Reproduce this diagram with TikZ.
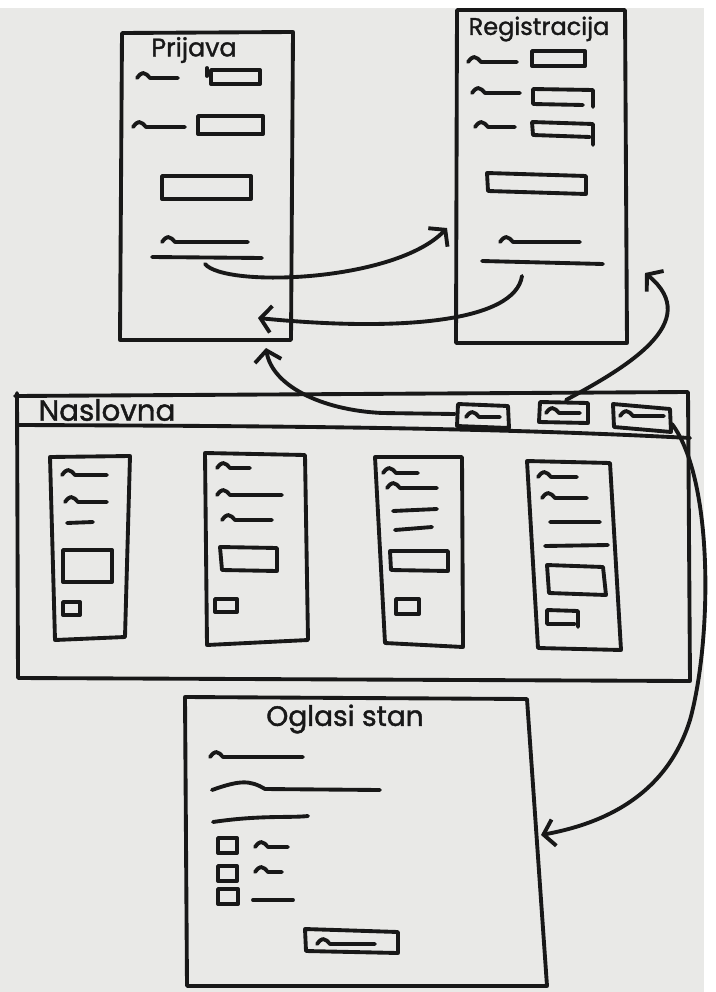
\documentclass[tikz,border=0pt]{standalone}
\usepackage{fontspec}
\newfontfamily\hand{Poppins}[FakeBold=1.4]
\usetikzlibrary{arrows.meta}
\definecolor{paper}{RGB}{233,233,231}
\definecolor{ink}{RGB}{24,24,24}
\newcommand\wavy[3]{\draw[pen] (#1,#3) sin ++(6,-5) cos ++(7,5) -- (#2,#3);}
\begin{document}
\begin{tikzpicture}[x=0.75pt,y=-0.75pt,
  pen/.style={line width=2.9pt,line cap=round,line join=round,draw=ink},
  arrowpen/.style={pen,-{Straight Barb[length=8pt,width=20pt]}},
  title/.style={inner sep=0pt,text=ink}]
\useasboundingbox (0,0) rectangle (715,992);
\fill[paper] (0,0) rectangle (715,992);
\fill[white] (0,0) rectangle (715,8);
\fill[white] (704,0) rectangle (715,992);

% ---------- Prijava ----------
\draw[pen] (122,33) -- (293,32) -- (291,340) -- (120,340) -- cycle;
\node[title,font=\hand\fontsize{19}{21}\selectfont] (prijavaT) at (194,50) {Prijava};
\wavy{137}{178}{78}
\draw[pen] (207,68) -- (207,76) (211,70) rectangle (260,84);
\wavy{133}{185}{127}
\draw[pen] (198,116) rectangle (263,134);
\draw[pen] (162,176) rectangle (251,199);
\wavy{162}{248}{242}
\draw[pen] (152,257) -- (262,258);

% ---------- Registracija ----------
\draw[pen] (457,10) -- (625,10) -- (627,343) -- (456,343) -- cycle;
\node[title,font=\hand\fontsize{18}{20}\selectfont] (regT) at (539,29) {Registracija};
\wavy{468}{517}{62}
\draw[pen] (532,51) rectangle (585,66);
\wavy{472}{520}{93}
\draw[pen] (533,89) -- (593,90) -- (593,107) (533,89) -- (533,104) -- (583,105);
\wavy{475}{515}{127}
\draw[pen] (532,122) -- (593,124) -- (593,145) (532,122) -- (533,135) -- (590,137);
\draw[pen] (487,173) -- (586,176) -- (586,194) -- (488,191) -- cycle;
\wavy{500}{580}{242}
\draw[pen] (482,261) -- (603,264);

% ---------- Naslovna ----------
\draw[pen] (15,396) -- (688,392) -- (690,681) -- (18,678) -- (17,393);
\draw[pen] (18,425) .. controls (300,426) and (500,428) .. (690,438);
\node[title,font=\hand\fontsize{22}{24}\selectfont] (naslovnaT) at (107,410) {Naslovna};
\draw[pen] (458,404) -- (508,406) -- (509,428) -- (457,426) -- cycle;
\wavy{466}{500}{417}
\draw[pen] (540,402) -- (588,403) -- (588,423) -- (539,422) -- cycle;
\wavy{546}{580}{413}
\draw[pen] (613,404) -- (670,409) -- (671,432) -- (614,427) -- cycle;
\wavy{620}{664}{416}

% cards
\draw[pen] (50,457) -- (130,456) -- (125,637) -- (55,640) -- cycle;
\wavy{62}{107}{475} \wavy{65}{107}{502}
\draw[pen] (67,523) -- (93,522);
\draw[pen] (63,550) rectangle (112,582);
\draw[pen] (63,602) rectangle (80,615);

\draw[pen] (205,453) -- (305,455) -- (308,640) -- (207,645) -- cycle;
\wavy{217}{250}{468} \wavy{217}{282}{495} \wavy{222}{272}{520}
\draw[pen] (220,547) -- (277,548) -- (277,571) -- (222,570) -- cycle;
\draw[pen] (215,599) rectangle (237,612);

\draw[pen] (375,457) -- (462,457) -- (463,647) -- (385,643) -- cycle;
\wavy{383}{418}{473} \wavy{387}{437}{488}
\draw[pen] (393,511) -- (437,509) (395,530) -- (432,527);
\draw[pen] (390,551) -- (448,551) -- (448,571) -- (391,570) -- cycle;
\draw[pen] (396,599) rectangle (419,614);

\draw[pen] (527,461) -- (610,463) -- (621,650) -- (538,648) -- cycle;
\wavy{538}{577}{477} \wavy{542}{587}{498}
\draw[pen] (550,522) -- (600,522) (545,546) -- (608,545);
\draw[pen] (547,565) -- (603,567) -- (606,595) -- (549,593) -- cycle;
\draw[pen] (547,610) -- (578,611) -- (578,627) (547,610) -- (547,624) -- (575,624);

% ---------- Oglasi stan ----------
\draw[pen] (185,697) -- (527,699) -- (547,986) -- (187,986) -- cycle;
\node[title,font=\hand\fontsize{21}{23}\selectfont] (oglasiT) at (345,719) {Oglasi stan};
\wavy{210}{303}{757}
\draw[pen] (212,790) .. controls (240,780) and (250,780) .. (265,789) -- (380,790);
\draw[pen] (213,822) .. controls (260,815) and (290,818) .. (308,816);
\draw[pen] (218,838) rectangle (237,853);
\wavy{255}{288}{847}
\draw[pen] (218,866) rectangle (237,881);
\wavy{255}{282}{872}
\draw[pen] (218,889) rectangle (238,904);
\draw[pen] (253,900) -- (293,900);
\draw[pen] (305,929) -- (398,932) -- (398,953) -- (306,951) -- cycle;
\wavy{317}{375}{944}

% ---------- connectors ----------
\coordinate (pOut) at (205,264);
\coordinate (rIn) at (447,228);
\coordinate (rOut) at (522,276);
\coordinate (pIn) at (258,318);
\coordinate (b1) at (455,414);
\coordinate (pBot) at (266,348);
\coordinate (b2) at (566,400);
\coordinate (rBot) at (645,273);
\coordinate (b3) at (672,424);
\coordinate (oIn) at (541,835);

\draw[arrowpen] (pOut) .. controls (225,288) and (395,282) .. (rIn);
\draw[arrowpen] (rOut) .. controls (515,322) and (400,332) .. (pIn);
\draw[arrowpen] (b1) -- (382,413) .. controls (320,410) and (272,385) .. (pBot);
\draw[arrowpen] (b2) .. controls (625,368) and (705,322) .. (rBot);
\draw[arrowpen] (b3) .. controls (714,480) and (712,640) .. (690,720)
  .. controls (668,790) and (612,822) .. (oIn);
\end{tikzpicture}
\end{document}
